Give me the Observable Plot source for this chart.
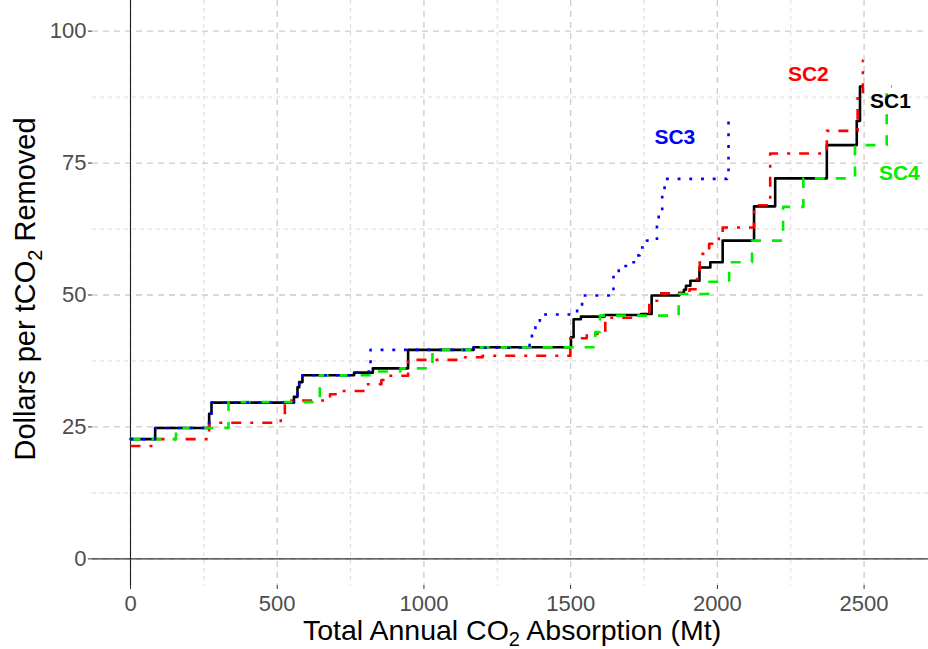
<!DOCTYPE html>
<html>
<head>
<meta charset="utf-8">
<script src="https://cdn.jsdelivr.net/npm/d3@7"></script>
<script src="https://cdn.jsdelivr.net/npm/@observablehq/plot@0.6"></script>
<style>
  html, body { margin: 0; padding: 0; background: #fff; }
</style>
</head>
<body>
<div id="chart"></div>
<script>
// ---- Data (step points: x = cumulative absorption in Mt, y = $/tCO2) ----
const sc1X = [0, 84, 268, 276, 557, 569, 575, 586, 762, 826, 946, 1169, 1501, 1510, 1535, 1615, 1740, 1776, 1870, 1886, 1893, 1908, 1939, 1976, 2018, 2125, 2197, 2373, 2475, 2486, 2490];
const sc1Y = [22.7, 24.8, 27.5, 29.6, 30.7, 32.5, 33.5, 34.8, 35.3, 36.1, 39.6, 40.1, 42.0, 45.4, 45.9, 46.2, 46.4, 49.9, 50.4, 51.0, 51.75, 52.7, 55.2, 56.2, 60.3, 66.8, 72.1, 78.4, 83.0, 89.5, 89.5];

const sc2X = [0, 84, 268, 512, 526, 680, 705, 800, 855, 880, 946, 1140, 1200, 1499, 1555, 1618, 1710, 1768, 1795, 1905, 1930, 1940, 1972, 2005, 2018, 2125, 2180, 2373, 2478, 2496, 2498];
const sc2Y = [21.4, 22.7, 25.8, 26.5, 30.0, 31.2, 31.8, 33.1, 33.9, 34.7, 37.7, 38.2, 38.5, 41.8, 42.6, 45.7, 46.1, 48.9, 50.3, 51.1, 53.0, 57.8, 59.7, 61.0, 62.8, 67.0, 76.8, 81.1, 88.0, 94.4, 94.4];

const sc3X = [0, 84, 268, 276, 557, 569, 575, 586, 762, 812, 818, 1169, 1360, 1368, 1380, 1395, 1522, 1539, 1636, 1646, 1664, 1697, 1726, 1735, 1760, 1794, 1800, 1812, 1820, 1823, 2033, 2038, 2042];
const sc3Y = [22.7, 24.8, 27.5, 29.6, 30.7, 32.5, 33.5, 34.8, 35.3, 36.9, 39.6, 40.0, 41.3, 43.4, 45.1, 46.3, 47.3, 49.9, 50.8, 54.0, 55.5, 56.2, 57.5, 59.0, 60.3, 63.8, 65.6, 69.1, 71.3, 72.0, 72.4, 83.0, 83.0];

const sc4X = [0, 155, 334, 645, 830, 920, 1029, 1169, 1584, 1600, 1868, 1968, 2040, 2118, 2224, 2293, 2469, 2577, 2595];
const sc4Y = [22.7, 24.8, 29.7, 34.8, 35.5, 36.1, 39.6, 40.1, 43.0, 46.1, 50.2, 52.5, 56.2, 60.3, 66.7, 72.1, 78.4, 89.5, 89.5];

const labelNames = ["SC1", "SC2", "SC3", "SC4"];
const labelX = [2590, 2310, 1855, 2620];
const labelY = [86.8, 91.9, 79.8, 73.0];

const xMajor = [0, 500, 1000, 1500, 2000, 2500];
const xMinor = [250, 750, 1250, 1750, 2250];
const yMajor = [0, 25, 50, 75, 100];
const yMinor = [12.5, 37.5, 62.5, 87.5];

// ---- Build tables ----
const toRows = (xs, ys) => xs.map((x, i) => ({x, y: ys[i]}));
const s1 = toRows(sc1X, sc1Y);
const s2 = toRows(sc2X, sc2Y);
const s3 = toRows(sc3X, sc3Y);
const s4 = toRows(sc4X, sc4Y);
const colors = {SC1: "#000000", SC2: "#ff0000", SC3: "#0000ff", SC4: "#00ee00"};
const labels = labelNames.map((n, i) => ({name: n, x: labelX[i], y: labelY[i]}));

const chart = Plot.plot({
  width: 928,
  height: 649,
  marginLeft: 92,
  marginRight: 0,
  marginTop: 0,
  marginBottom: 64,
  style: {background: "#fff", fontFamily: "'Liberation Sans', Arial, sans-serif"},
  x: {domain: [-129.5, 2719.5]},
  y: {domain: [-5.04, 105.8]},
  marks: [
    Plot.gridX(xMinor, {stroke: "#d6d6d6", strokeOpacity: 1, strokeWidth: 0.9, strokeDasharray: "4 4"}),
    Plot.gridY(yMinor, {stroke: "#d6d6d6", strokeOpacity: 1, strokeWidth: 0.9, strokeDasharray: "4 4"}),
    Plot.gridX(xMajor, {stroke: "#cccccc", strokeOpacity: 1, strokeWidth: 1.3, strokeDasharray: "6 5"}),
    Plot.gridY(yMajor, {stroke: "#cccccc", strokeOpacity: 1, strokeWidth: 1.3, strokeDasharray: "6 5"}),
    Plot.ruleY([0], {stroke: "#333", strokeWidth: 1.3}),
    Plot.ruleX([0], {stroke: "#222", strokeWidth: 1.1}),
    Plot.line(s1, {x: "x", y: "y", curve: "step-after", stroke: colors.SC1, strokeWidth: 2.6}),
    Plot.line(s2, {x: "x", y: "y", curve: "step-after", stroke: colors.SC2, strokeWidth: 2.6, strokeDasharray: "10 9 3 9", strokeLinecap: "butt"}),
    Plot.line(s4, {x: "x", y: "y", curve: "step-after", stroke: colors.SC4, strokeWidth: 2.6, strokeDasharray: "10 11", strokeLinecap: "butt"}),
    Plot.line(s3, {x: "x", y: "y", curve: "step-after", stroke: colors.SC3, strokeWidth: 2.6, strokeDasharray: "2.9 8.8", strokeLinecap: "butt"}),
    Plot.text(labels, {x: "x", y: "y", text: "name", fill: d => colors[d.name], fontSize: 21, fontWeight: "bold"}),
    Plot.axisX(xMajor, {tickSize: 4, tickPadding: 6, fontSize: 22, tickFormat: d3.format("d"), stroke: "#333", fill: "#4d4d4d", label: null}),
    Plot.axisY(yMajor, {tickSize: 4, tickPadding: 2, fontSize: 22, tickFormat: d3.format("d"), stroke: "#333", fill: "#4d4d4d", label: null})
  ]
});

document.getElementById("chart").appendChild(chart);

// Axis titles with real subscripts
const svg = d3.select(chart);
const font = "'Liberation Sans', Arial, sans-serif";
const xt = svg.append("text")
  .attr("x", 512).attr("y", 640)
  .attr("text-anchor", "middle")
  .attr("font-family", font).attr("font-size", 28.5).attr("fill", "#000");
xt.append("tspan").text("Total Annual CO");
xt.append("tspan").attr("font-size", 20).attr("dy", 6).text("2");
xt.append("tspan").attr("dy", -6).text(" Absorption (Mt)");

const yt = svg.append("text")
  .attr("transform", "translate(35,289) rotate(-90)")
  .attr("text-anchor", "middle")
  .attr("font-family", font).attr("font-size", 29).attr("fill", "#000");
yt.append("tspan").text("Dollars per tCO");
yt.append("tspan").attr("font-size", 20).attr("dy", 7).text("2");
yt.append("tspan").attr("dy", -7).text(" Removed");
</script>
</body>
</html>
